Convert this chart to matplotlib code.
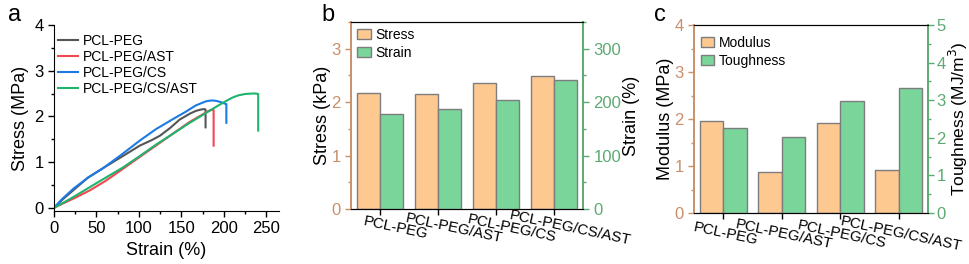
import matplotlib
matplotlib.use("Agg")
import matplotlib.pyplot as plt
from matplotlib.ticker import MultipleLocator
from matplotlib.transforms import ScaledTranslation, blended_transform_factory
import numpy as np

plt.rcParams['font.family'] = ['Liberation Sans', 'DejaVu Sans']

# ---------------- data ----------------
samples = ["PCL-PEG", "PCL-PEG/AST", "PCL-PEG/CS", "PCL-PEG/CS/AST"]

# panel a: stress-strain curves (strain %, stress MPa)
peg_x = [0, 10, 25, 40, 58, 80, 101, 115, 125, 137, 148, 160, 167, 173, 177, 178.5, 178.5]
peg_y = [0, 0.18, 0.42, 0.66, 0.87, 1.12, 1.36, 1.48, 1.58, 1.75, 1.93, 2.06, 2.12, 2.15, 2.16, 2.15, 1.76]
ast_x = [0, 10, 25, 42, 60, 81, 100, 120, 140, 159, 172, 182, 187, 188, 188]
ast_y = [0, 0.09, 0.22, 0.38, 0.58, 0.85, 1.1, 1.36, 1.62, 1.87, 2.01, 2.12, 2.15, 2.14, 1.36]
cs_x = [0, 10, 23, 40, 58, 80, 101, 120, 140, 155, 167, 179, 186, 191, 197, 201, 203, 203]
cs_y = [0, 0.2, 0.42, 0.66, 0.87, 1.17, 1.47, 1.72, 1.94, 2.1, 2.24, 2.33, 2.35, 2.34, 2.31, 2.28, 2.27, 1.86]
csast_x = [0, 10, 25, 42, 60, 81, 100, 120, 140, 159, 175, 190, 202, 210, 217, 225, 233, 238, 240.5, 240.5]
csast_y = [0, 0.1, 0.26, 0.45, 0.65, 0.88, 1.12, 1.38, 1.62, 1.85, 2.03, 2.2, 2.33, 2.41, 2.46, 2.49, 2.5, 2.5, 2.49, 1.69]

# panel b
stress_kpa = [2.17, 2.16, 2.35, 2.49]
strain_pct = [178, 188, 204, 242]

# panel c
modulus = [1.95, 0.87, 1.92, 0.91]
toughness = [2.25, 2.03, 2.97, 3.32]

# ---------------- style ----------------
c_gray = "#555555"
c_red = "#F2474F"
c_blue = "#1B7BE3"
c_green = "#1EB46E"
bar_orange = "#FEC891"
bar_green = "#79D59A"
edge = "#7d7d7d"
ax_orange = "#C8906A"
ax_green = "#5CAA72"

fs_tick = 12
fs_label = 13
fs_leg = 10

W, H = 969, 264
fig = plt.figure(figsize=(W / 100, H / 100), dpi=100)

def rect(l, r, t, b):
    return [l / W, (H - b) / H, (r - l) / W, (b - t) / H]

# ---------------- panel a ----------------
ax = fig.add_axes(rect(54, 279, 25, 211))
ax.plot(peg_x, peg_y, color=c_gray, lw=1.5, label="PCL-PEG")
ax.plot(ast_x, ast_y, color=c_red, lw=1.5, label="PCL-PEG/AST")
ax.plot(cs_x, cs_y, color=c_blue, lw=1.5, label="PCL-PEG/CS")
ax.plot(csast_x, csast_y, color=c_green, lw=1.5, label="PCL-PEG/CS/AST")
ax.set_xlim(0, 265)
ax.set_ylim(-0.07, 4)
ax.spines['top'].set_visible(False)
ax.spines['right'].set_visible(False)
ax.xaxis.set_major_locator(MultipleLocator(50))
ax.xaxis.set_minor_locator(MultipleLocator(25))
ax.yaxis.set_major_locator(MultipleLocator(1))
ax.yaxis.set_minor_locator(MultipleLocator(0.5))
ax.tick_params(which='both', direction='out', labelsize=fs_tick, width=1)
ax.tick_params(which='major', length=4)
ax.tick_params(which='minor', length=2.5)
ax.set_xlabel("Strain (%)", fontsize=fs_label, labelpad=4)
ax.set_ylabel("Stress (MPa)", fontsize=fs_label, labelpad=4)
ax.legend(loc='upper left', frameon=False, fontsize=fs_leg, handlelength=1.45,
          handletextpad=0.3, labelspacing=0.15, borderaxespad=0.0, borderpad=0.3,
          bbox_to_anchor=(0.0, 0.975))
fig.text(8 / W, 1 - 15 / H, "a", fontsize=17, va='center', ha='left')

def bar_panel(rect_px, left_vals, right_vals, left_lim, right_lim, left_major, right_major,
              left_minor, right_minor, left_label, right_label, names, letter, letter_x,
              lab_dx, lab_dy, leg_y, rpad, rfs, rtickpad):
    axl = fig.add_axes(rect(*rect_px))
    axr = axl.twinx()
    x = np.arange(len(samples))
    w = 0.4
    bl = axl.bar(x - w / 2, left_vals, width=w, color=bar_orange, edgecolor=edge, linewidth=1, label=names[0])
    br = axr.bar(x + w / 2, right_vals, width=w, color=bar_green, edgecolor=edge, linewidth=1, label=names[1])
    axl.set_xlim(-0.5, 3.5)
    axl.set_ylim(*left_lim)
    axr.set_ylim(*right_lim)
    axl.yaxis.set_major_locator(MultipleLocator(left_major))
    axl.yaxis.set_minor_locator(MultipleLocator(left_minor))
    axr.yaxis.set_major_locator(MultipleLocator(right_major))
    axr.yaxis.set_minor_locator(MultipleLocator(right_minor))
    axl.set_xticks(x)
    axl.set_xticklabels([])
    trans = blended_transform_factory(axl.transData, axl.transAxes) + \
        ScaledTranslation(lab_dx / 100, -lab_dy / 100, fig.dpi_scale_trans)
    for xi, name in zip(x, samples):
        axl.text(xi, 0, name, transform=trans, rotation=-12, rotation_mode='anchor',
                 ha='center', va='center', fontsize=10.8, clip_on=False)
    axl.tick_params(axis='x', which='both', direction='out', length=4, width=1)
    for a in (axl, axr):
        a.spines['left'].set_color(ax_orange)
        a.spines['right'].set_color(ax_green)
        a.spines['left'].set_linewidth(1.2)
        a.spines['right'].set_linewidth(1.2)
    axl.tick_params(axis='y', which='both', colors=ax_orange, labelsize=fs_tick, direction='out', width=1)
    axl.tick_params(axis='y', which='major', length=4)
    axl.tick_params(axis='y', which='minor', length=2.5)
    axr.tick_params(axis='y', which='both', colors=ax_green, labelsize=fs_tick, direction='out',
                    width=1, pad=rtickpad)
    axr.tick_params(axis='y', which='major', length=4)
    axr.tick_params(axis='y', which='minor', length=2.5)
    axl.set_ylabel(left_label, fontsize=fs_label, labelpad=0.5, color='black')
    axr.set_ylabel(right_label, fontsize=rfs, labelpad=rpad, color='black')
    axl.legend([bl, br], names, loc='upper left', frameon=False, fontsize=fs_leg,
               handlelength=1.0, handleheight=0.7, handletextpad=0.3, labelspacing=0.3,
               borderaxespad=0.0, borderpad=0.3, bbox_to_anchor=(0.01, leg_y))
    fig.text(letter_x / W, 1 - 15 / H, letter, fontsize=17, va='center', ha='left')
    return axl, axr

bar_panel((351, 583, 22, 209), stress_kpa, strain_pct, (0, 3.5), (0, 350), 1, 100, 0.5, 50,
          "Stress (kPa)", "Strain (%)", ["Stress", "Strain"], "b", 321,
          16, 19, 0.99, 1, fs_label, 3.5)

bar_panel((694, 928, 25, 213), modulus, toughness, (0, 4), (0, 5), 1, 1, 0.5, 0.5,
          "Modulus (MPa)", "Toughness (MJ/m$^3$)", ["Modulus", "Toughness"], "c", 654,
          2, 21, 0.965, 1, 12.5, 2)

fig.savefig("out.png", dpi=100)
